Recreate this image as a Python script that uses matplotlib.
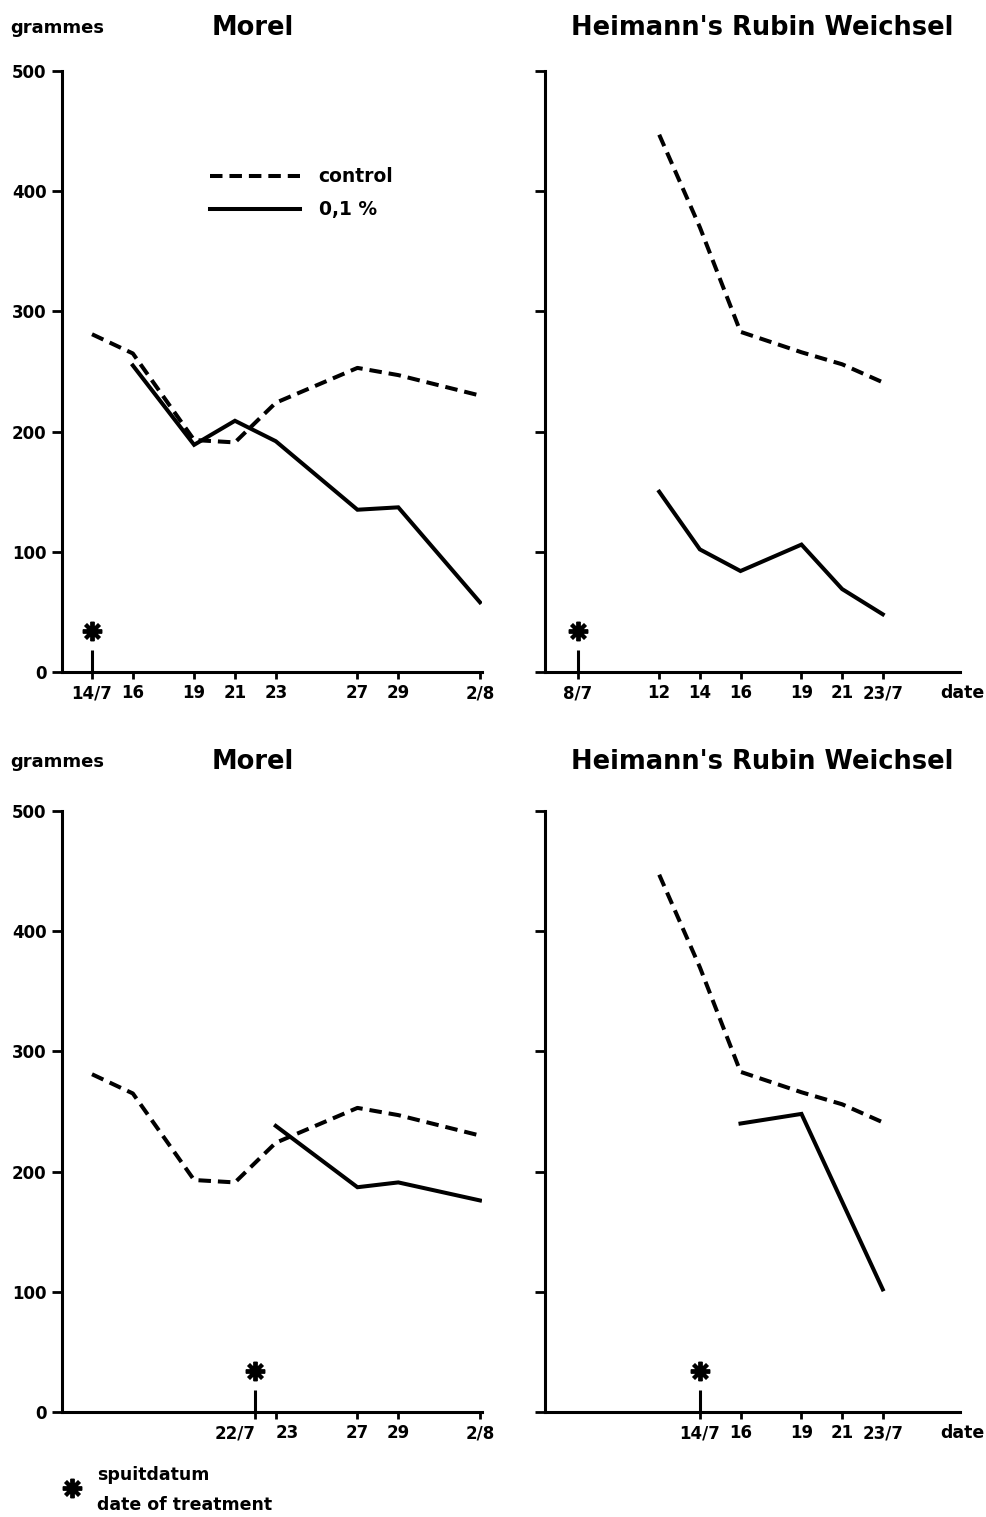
import numpy as np
import matplotlib
matplotlib.use("Agg")
import matplotlib.pyplot as plt
from matplotlib.lines import Line2D

plt.rcParams['font.family'] = ['DejaVu Sans']
plt.rcParams['font.weight'] = 'bold'
plt.rcParams['lines.scale_dashes'] = False

# dates are days counted from 1 July (2/8 -> 33)
morel_days_ctrl = [14, 16, 19, 21, 23, 27, 29, 33]
morel_ctrl = [281, 265, 193, 191, 224, 253, 247, 230]
morel_days_a = [16, 19, 21, 23, 27, 29, 33]
morel_a = [255, 189, 209, 192, 135, 137, 58]
morel_days_b = [23, 27, 29, 33]
morel_b = [238, 187, 191, 176]

heim_days_ctrl = [12, 14, 16, 19, 21, 23]
heim_ctrl = [447, 370, 283, 266, 256, 241]
heim_days_a = [12, 14, 16, 19, 21, 23]
heim_a = [150, 102, 84, 106, 69, 48]
heim_days_b = [16, 19, 23]
heim_b = [240, 248, 102]

treat_days = [14, 8, 22, 14]

ticks_tl = [14, 16, 19, 21, 23, 27, 29, 33]
labels_tl = ['14/7', '16', '19', '21', '23', '27', '29', '2/8']
ticks_tr = [8, 12, 14, 16, 19, 21, 23]
labels_tr = ['8/7', '12', '14', '16', '19', '21', '23/7']
ticks_bl = [22, 23, 27, 29, 33]
labels_bl = ['22/7', '23', '27', '29', '2/8']
ticks_br = [14, 16, 19, 21, 23]
labels_br = ['14/7', '16', '19', '21', '23/7']

W, H = 986, 1517
fig = plt.figure(figsize=(W / 100, H / 100), dpi=100)

def px_axes(x0, y_top, w, h):
    return fig.add_axes([x0 / W, 1 - (y_top + h) / H, w / W, h / H])

ax_tl = px_axes(62, 71, 420, 601)
ax_tr = px_axes(545, 71, 415, 601)
ax_bl = px_axes(62, 811, 420, 601)
ax_br = px_axes(545, 811, 415, 601)

dash = dict(color='black', lw=2.9, linestyle=(0, (9, 5)))
solid = dict(color='black', lw=2.9, solid_joinstyle='miter')
star = dict(marker=(8, 2, 0), ms=14, mew=2.8, color='black')

def style(ax, xlim, ticks, labels, ylabels):
    ax.set_xlim(*xlim)
    ax.set_ylim(0, 500)
    for s in ['top', 'right']:
        ax.spines[s].set_visible(False)
    for s in ['left', 'bottom']:
        ax.spines[s].set_linewidth(2.2)
    ax.set_xticks(ticks)
    ax.set_xticklabels(labels)
    ax.set_yticks([0, 100, 200, 300, 400, 500])
    if not ylabels:
        ax.set_yticklabels([])
    ax.tick_params(axis='x', length=5, width=2, pad=4, labelsize=12)
    ax.tick_params(axis='y', length=7, width=2, pad=4, labelsize=12)

def treatment(ax, day):
    ax.vlines(day, 0, 18, color='black', lw=2.2)
    ax.plot([day], [34], clip_on=False, **star)

# top left: Morel
l1, = ax_tl.plot(morel_days_ctrl, morel_ctrl, label='control', **dash)
l2, = ax_tl.plot(morel_days_a, morel_a, label='0,1 %', **solid)
style(ax_tl, (12.53, 33.1), ticks_tl, labels_tl, True)
treatment(ax_tl, treat_days[0])
ax_tl.legend(handles=[l1, l2], loc='upper left', bbox_to_anchor=(0.352, 0.84),
             frameon=False, borderpad=0, borderaxespad=0, handlelength=4.8,
             handletextpad=1.0, labelspacing=0.76, prop=dict(size=13.5, weight='bold'))

# top right: Heimann's Rubin Weichsel
ax_tr.plot(heim_days_ctrl, heim_ctrl, **dash)
ax_tr.plot(heim_days_a, heim_a, **solid)
style(ax_tr, (6.38, 26.8), ticks_tr, labels_tr, False)
treatment(ax_tr, treat_days[1])

# bottom left
ax_bl.plot(morel_days_ctrl, morel_ctrl, **dash)
ax_bl.plot(morel_days_b, morel_b, **solid)
style(ax_bl, (12.53, 33.1), ticks_bl, labels_bl, True)
treatment(ax_bl, treat_days[2])
ax_bl.get_xticklabels()[0].set_ha('right')
ax_bl.get_xticklabels()[1].set_ha('left')

# bottom right
ax_br.plot(heim_days_ctrl, heim_ctrl, **dash)
ax_br.plot(heim_days_b, heim_b, **solid)
style(ax_br, (6.38, 26.8), ticks_br, labels_br, False)
treatment(ax_br, treat_days[3])

def ftext(x, y, s, **kw):
    fig.text(x / W, 1 - y / H, s, va='center', **kw)

for y in (28, 762):
    ftext(10, y, 'grammes', fontsize=13, ha='left')
    ftext(253, y, 'Morel', fontsize=18.5, ha='center')
    ftext(762, y, "Heimann's Rubin Weichsel", fontsize=18.5, ha='center')
for y in (693, 1433):
    ftext(962, y, 'date', fontsize=12.5, ha='center')

fig.add_artist(Line2D([72 / W], [1 - 1488 / H], transform=fig.transFigure, **star))
ftext(97, 1475, 'spuitdatum', fontsize=12.5, ha='left')
ftext(97, 1505, 'date of treatment', fontsize=12.5, ha='left')

fig.savefig('out.png', dpi=100)
